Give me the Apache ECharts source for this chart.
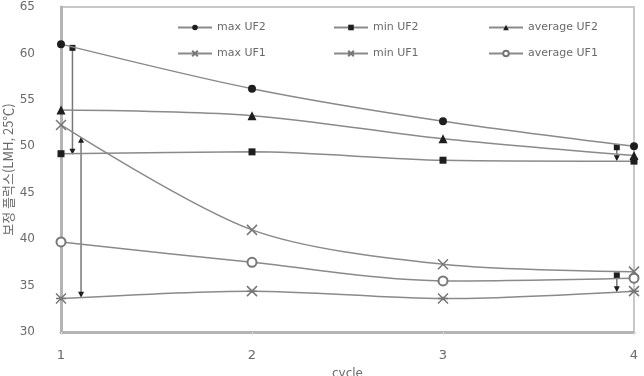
<!DOCTYPE html>
<html>
<head>
<meta charset="utf-8">
<script src="https://cdn.jsdelivr.net/npm/echarts@6/dist/echarts.min.js"></script>
<style>
  html, body { margin: 0; padding: 0; background: #fff; }
  #chart { width: 644px; height: 376px; }
</style>
</head>
<body>
<div id="chart"></div>
<script>
// cycle values and fluxes
const cycles = [1, 2, 3, 4];
const maxUF2 = [61.0, 56.2, 52.7, 50.0];
const minUF2 = [49.2, 49.4, 48.5, 48.4];
const avgUF2 = [53.9, 53.3, 50.8, 49.0];
const maxUF1 = [52.3, 41.0, 37.3, 36.5];
const minUF1 = [33.6, 34.4, 33.6, 34.4];
const avgUF1 = [39.7, 37.5, 35.5, 35.8];

// range bars drawn beside cycle 1 and 4
const rangeX = [1.06, 1.105, 3.91, 3.91];
const rangeTop = [60.6, 50.7, 49.9, 36.1];
const rangeBottom = [49.4, 34.0, 48.7, 34.6];

const yTicks = [30, 35, 40, 45, 50, 55, 60, 65];

const lineColor = '#8a8a8a';
const markColor = '#1e1e1e';
const textColor = '#6a6a6a';
const xMark = 'path://M0,0L10,10M10,0L0,10';
const starMark = 'path://M0,0L10,10M10,0L0,10M0,5L10,5M4,4L6,4L6,6L4,6Z';

let chart = echarts.init(document.getElementById('chart'));

function pairs(values) {
  return cycles.map((c, i) => [c, values[i]]);
}

function line(name, values, symbol, size, extra) {
  return Object.assign({
    name: name,
    type: 'line',
    smooth: 0.3,
    data: pairs(values),
    symbol: symbol,
    symbolSize: size,
    lineStyle: { color: lineColor, width: 1.5 },
    itemStyle: { color: markColor, borderColor: markColor, borderWidth: 0 },
    z: 3
  }, extra || {});
}

let series = [
  line('max UF2', maxUF2, 'circle', 8),
  line('min UF2', minUF2, 'rect', 7),
  line('average UF2', avgUF2, 'triangle', 9),
  line('max UF1', maxUF1, xMark, 10, {
    itemStyle: { color: 'none', borderColor: '#777', borderWidth: 1.5 }
  }),
  line('min UF1', minUF1, starMark, 10, {
    itemStyle: { color: '#333', borderColor: '#777', borderWidth: 1.5 }
  }),
  line('average UF1', avgUF1, 'emptyCircle', 9, {
    itemStyle: { color: '#777', borderWidth: 1.5 }
  })
];

// vertical range bars with small end markers
rangeX.forEach((x, i) => {
  series.push({
    type: 'line',
    silent: true,
    data: [
      { value: [x, rangeTop[i]], symbol: i === 1 ? 'triangle' : 'rect', symbolRotate: 0 },
      { value: [x, rangeBottom[i]], symbol: 'triangle', symbolRotate: 180 }
    ],
    symbolSize: 6,
    lineStyle: { color: '#777', width: 1.5 },
    itemStyle: { color: markColor },
    z: 2
  });
});

const names = ['max UF2', 'min UF2', 'average UF2', 'max UF1', 'min UF1', 'average UF1'];
const legendX = [172, 328, 483];
const legendY = [17, 43];
let legends = names.map((n, i) => ({
  data: [n],
  left: legendX[i % 3],
  top: legendY[Math.floor(i / 3)],
  itemWidth: 34,
  itemHeight: 7,
  itemGap: 0,
  selectedMode: false,
  textStyle: { color: textColor, fontSize: 11, fontFamily: 'DejaVu Sans' }
}));

let option = {
  backgroundColor: '#fff',
  animation: false,
  legend: legends,
  grid: {
    left: 61,
    right: 10,
    top: 7,
    bottom: 44,
    containLabel: false,
    outerBoundsMode: 'none',
    show: true,
    borderColor: '#c8c8c8',
    borderWidth: 2
  },
  xAxis: {
    type: 'value',
    min: 1,
    max: 4,
    interval: 1,
    name: 'cycle',
    nameLocation: 'middle',
    nameGap: 36,
    nameMoveOverlap: false,
    nameTextStyle: { color: textColor, fontSize: 12, fontFamily: 'DejaVu Sans' },
    axisLine: { lineStyle: { color: '#b4b4b4', width: 3 } },
    axisTick: { show: true, length: 3, inside: false, lineStyle: { color: '#ddd' } },
    splitLine: { show: false },
    axisLabel: { color: textColor, fontSize: 13, margin: 17, fontFamily: 'DejaVu Sans' }
  },
  yAxis: {
    type: 'value',
    min: yTicks[0],
    max: yTicks[yTicks.length - 1],
    interval: 5,
    name: '보정 플럭스(LMH, 25℃)',
    nameLocation: 'middle',
    nameGap: 46,
    nameMoveOverlap: false,
    nameTextStyle: { color: textColor, fontSize: 13, fontFamily: 'Noto Sans CJK KR' },
    axisLine: { show: true, lineStyle: { color: '#b4b4b4', width: 3 } },
    axisTick: { show: false },
    splitLine: { show: false },
    axisLabel: { color: textColor, fontSize: 12, margin: 26, fontFamily: 'DejaVu Sans' }
  },
  series: series
};

chart.setOption(option);
</script>
</body>
</html>
